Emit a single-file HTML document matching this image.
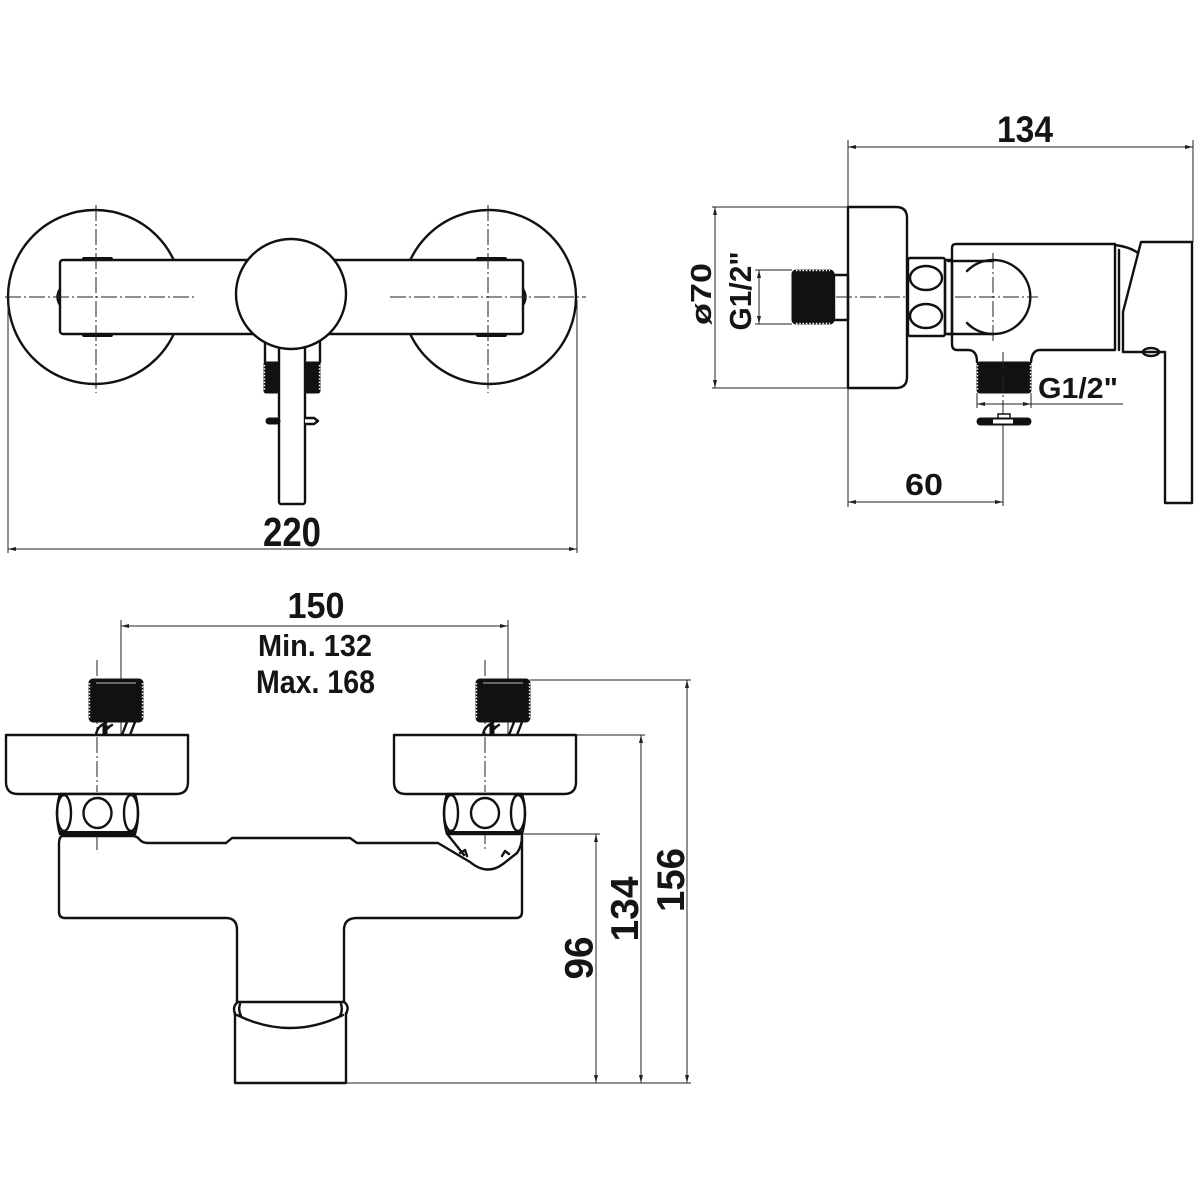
<!DOCTYPE html>
<html><head><meta charset="utf-8"><style>
html,body{margin:0;padding:0;background:#fff;}
svg{display:block;}
text{font-family:"Liberation Sans",Arial,sans-serif;font-weight:bold;fill:#151515;}
.m{stroke:#111;stroke-width:2.4;fill:none;stroke-linejoin:round;stroke-linecap:round;}
.w{fill:#fff;}
.d{stroke:#222;stroke-width:1;fill:none;}
.c{stroke:#222;stroke-width:1;fill:none;stroke-dasharray:16 3 2 3;}
.k{fill:#111;stroke:#111;stroke-width:1;}
.t{stroke:#fff;stroke-width:1.4;stroke-dasharray:1.5 1.8;fill:none;}
</style></head><body>
<svg width="1200" height="1200" viewBox="0 0 1200 1200" xmlns="http://www.w3.org/2000/svg">
<defs>
<marker id="ar" viewBox="0 0 8 4" refX="8" refY="2" markerWidth="8" markerHeight="4" orient="auto-start-reverse" markerUnits="userSpaceOnUse"><path d="M0,0 L8,2 L0,4 z" fill="#222"/></marker>
</defs>

<!-- ============ TOP-LEFT VIEW ============ -->
<circle class="m" cx="95" cy="297" r="87"/>
<circle class="m" cx="489" cy="297" r="87"/>
<rect class="m w" x="60" y="260" width="463" height="74" rx="3"/>
<path class="m" d="M60 289 Q55 297 60 305"/>
<path class="m" d="M523 289 Q528 297 523 305"/>
<g stroke="#111" stroke-width="4" stroke-linecap="round">
<line x1="84" y1="259" x2="111" y2="259"/><line x1="84" y1="335" x2="111" y2="335"/>
<line x1="478" y1="259" x2="505" y2="259"/><line x1="478" y1="335" x2="505" y2="335"/>
</g>
<line class="c" x1="96" y1="205" x2="96" y2="393"/>
<line class="c" x1="488" y1="205" x2="488" y2="393"/>
<line class="c" x1="5" y1="297" x2="197" y2="297"/>
<line class="c" x1="390" y1="297" x2="586" y2="297"/>
<!-- under circle -->
<line class="m" x1="265" y1="340" x2="265" y2="362"/>
<line class="m" x1="320" y1="340" x2="320" y2="362"/>
<rect class="k" x="264" y="362" width="15" height="31" rx="2"/>
<rect class="k" x="305" y="362" width="15" height="31" rx="2"/>
<line class="t" x1="264.5" y1="365" x2="264.5" y2="390"/>
<line class="t" x1="319.5" y1="365" x2="319.5" y2="390"/>
<rect class="m w" x="279" y="340" width="26" height="164" rx="2"/>
<circle class="m w" cx="291" cy="294" r="55"/>
<rect class="k" x="266" y="418" width="14" height="6" rx="3"/>
<path class="m w" stroke-width="1.8" d="M305 418 H314 L318 421 L314 424 H305"/>
<!-- 220 dim -->
<line class="d" x1="8" y1="300" x2="8" y2="553"/>
<line class="d" x1="577" y1="300" x2="577" y2="553"/>
<line class="d" x1="8" y1="549" x2="577" y2="549" marker-start="url(#ar)" marker-end="url(#ar)"/>
<text x="292" y="546" font-size="41" text-anchor="middle" textLength="58" lengthAdjust="spacingAndGlyphs">220</text>

<!-- ============ TOP-RIGHT VIEW ============ -->
<line class="d" x1="848" y1="140" x2="848" y2="507"/>
<line class="d" x1="1193" y1="140" x2="1193" y2="242"/>
<line class="d" x1="848" y1="147" x2="1193" y2="147" marker-start="url(#ar)" marker-end="url(#ar)"/>
<text x="1025" y="142" font-size="37" text-anchor="middle" textLength="56" lengthAdjust="spacingAndGlyphs">134</text>
<path class="m" d="M848 207 H896 Q907 207 907 218 V377 Q907 388 896 388 H848 Z"/>
<line class="d" x1="712" y1="207" x2="848" y2="207"/>
<line class="d" x1="712" y1="388" x2="848" y2="388"/>
<line class="d" x1="715" y1="207" x2="715" y2="388" marker-start="url(#ar)" marker-end="url(#ar)"/>
<text transform="translate(701,294) rotate(-90)" x="0" y="10" font-size="29" text-anchor="middle" textLength="62" lengthAdjust="spacingAndGlyphs">ø70</text>
<line class="d" x1="755" y1="270" x2="792" y2="270"/>
<line class="d" x1="755" y1="324" x2="792" y2="324"/>
<line class="d" x1="759" y1="270" x2="759" y2="324" marker-start="url(#ar)" marker-end="url(#ar)"/>
<text transform="translate(739,291) rotate(-90)" x="0" y="12" font-size="31" text-anchor="middle" textLength="79" lengthAdjust="spacingAndGlyphs">G1/2"</text>
<rect class="k" x="792" y="270" width="42" height="54" rx="4"/>
<line class="t" x1="796" y1="270.5" x2="830" y2="270.5"/>
<line class="t" x1="796" y1="323.5" x2="830" y2="323.5"/>
<rect class="m" stroke-width="2" x="834" y="275" width="14" height="45"/>
<line class="c" x1="836" y1="297" x2="905" y2="297"/>
<rect class="m" x="908" y="258" width="37" height="78" rx="2"/>
<ellipse class="m" cx="926" cy="278" rx="16" ry="12"/>
<ellipse class="m" cx="926" cy="316" rx="16" ry="12"/>
<rect class="m" x="945" y="260" width="7" height="74"/>
<path class="m" d="M956 244 H1115 V350 H1040 Q1032 350 1031 362 M977 362 Q977 350 968 350 H957 Q952 350 952 344 V248 Q952 244 956 244"/>
<line class="m" x1="948" y1="261" x2="993" y2="261"/>
<line class="m" x1="948" y1="334" x2="993" y2="334"/>
<path class="m" d="M967 271 A37 37 0 1 1 967 323"/>
<line class="c" x1="955" y1="297" x2="1038" y2="297"/>
<line class="c" x1="993" y1="253" x2="993" y2="343"/>
<path class="m" d="M1115 245 Q1130 247 1138 253"/>
<line class="m" stroke-width="1.6" x1="1119" y1="250" x2="1119" y2="350"/>
<path class="m" d="M1141 242 H1192 V503 H1165 V352 H1123 V312 Z"/>
<ellipse class="m" stroke-width="1.6" cx="1151" cy="352" rx="8" ry="4"/>
<rect class="k" x="977" y="362" width="54" height="31" rx="3"/>
<line class="t" x1="977.5" y1="365" x2="977.5" y2="390"/>
<line class="t" x1="1030.5" y1="365" x2="1030.5" y2="390"/>
<line class="c" x1="1003" y1="352" x2="1003" y2="410"/>
<line class="d" x1="1003" y1="410" x2="1003" y2="506"/>
<line class="d" x1="977" y1="393" x2="977" y2="408"/>
<line class="d" x1="1031" y1="393" x2="1031" y2="408"/>
<line class="d" x1="977" y1="404" x2="1123" y2="404" marker-start="url(#ar)"/>
<line class="d" x1="977" y1="404" x2="1031" y2="404" marker-end="url(#ar)"/>
<text x="1078" y="398" font-size="29" text-anchor="middle" textLength="80" lengthAdjust="spacingAndGlyphs">G1/2"</text>
<rect x="998" y="414" width="12" height="5" fill="#fff" stroke="#111" stroke-width="1.5"/>
<rect class="k" x="977" y="418" width="54" height="7" rx="3.5"/>
<rect x="993" y="419.5" width="20" height="4" fill="#fff"/>
<line class="d" x1="848" y1="502" x2="1003" y2="502" marker-start="url(#ar)" marker-end="url(#ar)"/>
<text x="924" y="495" font-size="31" text-anchor="middle" textLength="38" lengthAdjust="spacingAndGlyphs">60</text>

<!-- ============ BOTTOM VIEW ============ -->
<line class="d" x1="121" y1="620" x2="121" y2="758"/>
<line class="d" x1="508" y1="620" x2="508" y2="747"/>
<line class="d" x1="121" y1="626" x2="508" y2="626" marker-start="url(#ar)" marker-end="url(#ar)"/>
<text x="316" y="618" font-size="36" text-anchor="middle" textLength="57" lengthAdjust="spacingAndGlyphs">150</text>
<text x="315" y="656" font-size="31" text-anchor="middle" textLength="114" lengthAdjust="spacingAndGlyphs">Min. 132</text>
<text x="315.5" y="693" font-size="32" text-anchor="middle" textLength="119" lengthAdjust="spacingAndGlyphs">Max. 168</text>

<!-- left fitting -->
<line class="c" x1="97" y1="660" x2="97" y2="850"/>
<rect class="k" x="89" y="679" width="54" height="43" rx="4"/>
<line class="t" x1="89.5" y1="683" x2="89.5" y2="718"/>
<line class="t" x1="142.5" y1="683" x2="142.5" y2="718"/>
<line x1="96" y1="683" x2="136" y2="683" stroke="#bbb" stroke-width="1"/>
<g class="m" stroke-width="1.8">
<path d="M96 735 Q97 726 106 723"/><path d="M104 735 Q106 728 112 725"/>
<path d="M122 735 L127 722"/><path d="M130 735 L135 722"/>
</g>
<rect class="k" x="103" y="725" width="4" height="10"/>
<path class="m w" d="M6 735 H188 V782 Q188 794 176 794 H18 Q6 794 6 782 Z"/>
<line class="c" x1="97" y1="737" x2="97" y2="792"/>
<path class="m w" d="M60 794 H135 Q141 813 135 834 H60 Q54 813 60 794 Z"/>
<ellipse class="m" cx="64" cy="813" rx="7" ry="18"/>
<ellipse class="m" cx="97.5" cy="813" rx="14" ry="15"/>
<ellipse class="m" cx="131" cy="813" rx="7" ry="18"/>
<line x1="60" y1="833" x2="136" y2="833" stroke="#111" stroke-width="4"/>

<!-- right fitting -->
<line class="c" x1="485" y1="660" x2="485" y2="850"/>
<rect class="k" x="476" y="679" width="54" height="43" rx="4"/>
<line class="t" x1="476.5" y1="683" x2="476.5" y2="718"/>
<line class="t" x1="529.5" y1="683" x2="529.5" y2="718"/>
<line x1="483" y1="683" x2="523" y2="683" stroke="#bbb" stroke-width="1"/>
<g class="m" stroke-width="1.8">
<path d="M483 735 Q484 726 493 723"/><path d="M491 735 Q493 728 499 725"/>
<path d="M509 735 L514 722"/><path d="M517 735 L522 722"/>
</g>
<rect class="k" x="490" y="725" width="4" height="10"/>
<path class="m w" d="M394 735 H576 V782 Q576 794 564 794 H406 Q394 794 394 782 Z"/>
<line class="c" x1="485" y1="737" x2="485" y2="792"/>
<path class="m w" d="M447 794 H522 Q528 813 522 834 H447 Q441 813 447 794 Z"/>
<ellipse class="m" cx="451" cy="813" rx="7" ry="18"/>
<ellipse class="m" cx="485" cy="813" rx="14" ry="15"/>
<ellipse class="m" cx="518" cy="813" rx="7" ry="18"/>
<line x1="447" y1="833" x2="523" y2="833" stroke="#111" stroke-width="4"/>

<!-- body -->
<path class="m" d="M63 836 H133 Q137 836 140 840 Q143 843 148 843 H226 L232 838 H350 L357 843 H438 L470 862 Q487 876 503 864 L517 853 Q522 846 522 836"/>
<path class="m" d="M62 836 Q59 837 59 844 V912 Q59 918 65 918 H226 Q237 918 237 930 V1002"/>
<path class="m" d="M522 836 V912 Q522 918 516 918 H357 Q344 918 344 930 V1002"/>
<path class="m" d="M448 835 L464 855 M460 853 L465 850 L467 856"/>
<path class="m" stroke-width="1.8" d="M502 856 L505 851 L509 854"/>
<line class="c" x1="97" y1="836" x2="97" y2="850"/>
<line class="m" x1="237" y1="1002" x2="344" y2="1002"/>
<path class="m" d="M235 1013 V1083 H346 V1013"/>
<path class="m" stroke-width="3" d="M237 1015 Q290 1041 343 1015"/>
<path class="m" d="M238 1002 Q232 1006 235 1014 M344 1002 Q350 1006 346 1014"/>
<path class="m" stroke-width="1.6" d="M240 1004 Q238 1010 241 1016 M341 1004 Q343 1010 340 1016"/>

<!-- height dims -->
<line class="d" x1="346" y1="1083" x2="691" y2="1083"/>
<line class="d" x1="523" y1="834" x2="600" y2="834"/>
<line class="d" x1="576" y1="735" x2="645" y2="735"/>
<line class="d" x1="530" y1="680" x2="691" y2="680"/>
<line class="d" x1="596" y1="834" x2="596" y2="1083" marker-start="url(#ar)" marker-end="url(#ar)"/>
<line class="d" x1="641" y1="735" x2="641" y2="1083" marker-start="url(#ar)" marker-end="url(#ar)"/>
<line class="d" x1="687" y1="680" x2="687" y2="1083" marker-start="url(#ar)" marker-end="url(#ar)"/>
<text transform="translate(578,958) rotate(-90)" x="0" y="14.5" font-size="40" text-anchor="middle" textLength="43" lengthAdjust="spacingAndGlyphs">96</text>
<text transform="translate(624,909) rotate(-90)" x="0" y="14" font-size="39" text-anchor="middle" textLength="65" lengthAdjust="spacingAndGlyphs">134</text>
<text transform="translate(670,880) rotate(-90)" x="0" y="14" font-size="39" text-anchor="middle" textLength="64" lengthAdjust="spacingAndGlyphs">156</text>
</svg>
</body></html>
